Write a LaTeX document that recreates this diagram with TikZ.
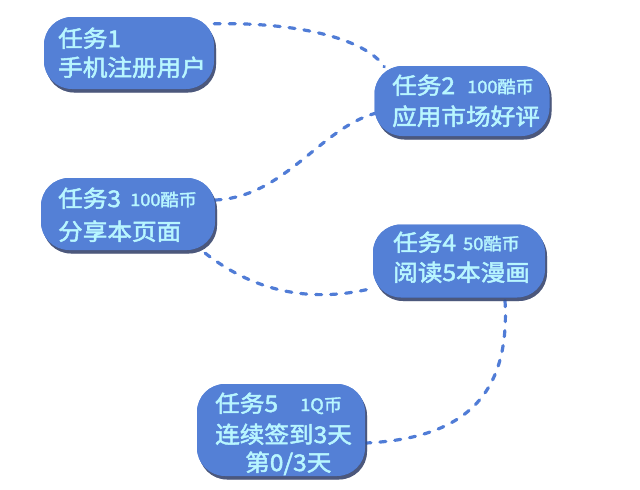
\documentclass[tikz,border=0pt]{standalone}
\usepackage{fontspec}
\usetikzlibrary{shadows}
\newfontfamily\cjkfont[FakeStretch=1.07,FakeBold=2.2]{Noto Sans CJK SC}
\definecolor{taskblue}{RGB}{84,128,214}
\definecolor{linkblue}{RGB}{80,124,214}
\definecolor{tasktext}{RGB}{184,246,255}
\definecolor{shadowblue}{RGB}{30,45,90}
\tikzset{
  taskbox/.style={draw=none, fill=taskblue, rounded corners=28pt,
    minimum width=#1, inner sep=0pt,
    drop shadow={shadow xshift=2pt, shadow yshift=-3.5pt, fill=shadowblue, opacity=0.55}},
  bigtext/.style={anchor=base west, inner sep=0pt, text=tasktext,
    font=\cjkfont\fontsize{23}{23}\selectfont},
  smalltext/.style={anchor=base west, inner sep=0pt, text=tasktext,
    font=\cjkfont\fontsize{17}{17}\selectfont},
  link/.style={draw=linkblue, line width=3.2pt, line cap=round,
    dash pattern=on 6pt off 9pt},
}
\begin{document}
\begin{tikzpicture}[x=1pt,y=-1pt]
  \useasboundingbox (0,0) rectangle (640,490);

  % task boxes (first pass, fixes the anchors used by the links)
  \node[taskbox=170pt, minimum height=72pt] (b1) at (129,53) {};
  \node[taskbox=175pt, minimum height=70pt] (b2) at (462,101) {};
  \node[taskbox=174pt, minimum height=72pt] (b3) at (128,214) {};
  \node[taskbox=172pt, minimum height=73pt] (b4) at (459,261) {};
  \node[taskbox=168pt, minimum height=92pt] (b5) at (281,430) {};

  % dashed links between consecutive tasks
  \draw[link] ([shift={(0,7)}]b1.north east) .. controls (295,22) and (365,38) .. ([shift={(10,1)}]b2.north west);
  \draw[link] ([shift={(2,12)}]b2.west) .. controls (320,128) and (285,197) .. ([shift={(0,-14)}]b3.east);
  \draw[link] ([shift={(-10,3)}]b3.south east) .. controls (250,288) and (305,305) .. ([shift={(1,27)}]b4.west);
  \draw[link] ([shift={(46,3)}]b4.south) .. controls (510,390) and (470,438) .. ([shift={(1,13)}]b5.east);

  % boxes again, above the link ends
  \node[taskbox=170pt, minimum height=72pt] (b1t) at (129,53) {};
  \node[taskbox=175pt, minimum height=70pt] (b2t) at (462,101) {};
  \node[taskbox=174pt, minimum height=72pt] (b3t) at (128,214) {};
  \node[taskbox=172pt, minimum height=73pt] (b4t) at (459,261) {};
  \node[taskbox=168pt, minimum height=92pt] (b5t) at (281,430) {};

  % task 1
  \node[bigtext] (t1a) at (58,47) {任务1};
  \node[bigtext] (t1b) at (58,76) {手机注册用户};
  % task 2
  \node[bigtext] (t2a) at (392,94) {任务2};
  \node[smalltext] (t2c) at (467,93) {100酷币};
  \node[bigtext] (t2b) at (392,125) {应用市场好评};
  % task 3
  \node[bigtext] (t3a) at (58,207) {任务3};
  \node[smalltext] (t3c) at (130,206) {100酷币};
  \node[bigtext] (t3b) at (58,240) {分享本页面};
  % task 4
  \node[bigtext] (t4a) at (393,251) {任务4};
  \node[smalltext] (t4c) at (463,250) {50酷币};
  \node[bigtext] (t4b) at (393,281) {阅读5本漫画};
  % task 5
  \node[bigtext] (t5a) at (215,412) {任务5};
  \node[smalltext] (t5c) at (300,411) {1Q币};
  \node[bigtext] (t5b) at (215,443) {连续签到3天};
  \node[bigtext] (t5d) at (245,471) {第0/3天};
\end{tikzpicture}
\end{document}
